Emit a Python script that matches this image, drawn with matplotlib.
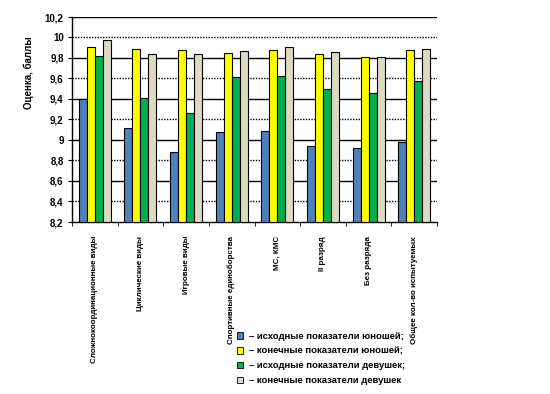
import matplotlib
matplotlib.use("Agg")
import matplotlib.pyplot as plt
import numpy as np
from matplotlib.patches import Patch

categories = ["Сложнокоординационные виды", "Циклические виды", "Игровые виды",
              "Спортивные единоборства", "МС, КМС", "II разряд", "Без разряда",
              "Общее кол-во испытуемых"]
boys_start = [9.40, 9.12, 8.88, 9.08, 9.09, 8.945, 8.92, 8.98]
boys_end = [9.91, 9.89, 9.88, 9.85, 9.875, 9.84, 9.81, 9.875]
girls_start = [9.82, 9.41, 9.26, 9.61, 9.62, 9.50, 9.46, 9.58]
girls_end = [9.98, 9.84, 9.84, 9.865, 9.91, 9.855, 9.81, 9.89]
series_labels = ["– исходные показатели юношей;", "– конечные показатели юношей;",
                 "– исходные показатели девушек;", "– конечные показатели девушек"]
colors = ["#4F81BD", "#FFFF00", "#00B050", "#DDD9C3"]
yticks = [8.2, 8.4, 8.6, 8.8, 9.0, 9.2, 9.4, 9.6, 9.8, 10.0, 10.2]
ytick_labels = ["8,2", "8,4", "8,6", "8,8", "9", "9,2", "9,4", "9,6", "9,8", "10", "10,2"]

plt.rcParams['font.family'] = ['Liberation Sans', 'DejaVu Sans']
fig = plt.figure(figsize=(5.5, 3.94), dpi=100)
ax = fig.add_axes([72/550, 1-222/394, (437-72)/550, (222-17)/394])

series = [boys_start, boys_end, girls_start, girls_end]
x = np.arange(len(categories))
w = 0.175
base = 8.2
for i, (vals, c) in enumerate(zip(series, colors)):
    ax.bar(x - 1.5*w + i*w, np.array(vals) - base, bottom=base, width=w,
           color=c, edgecolor="black", linewidth=0.8, zorder=3,
           label=series_labels[i])

ax.set_xlim(-0.5, len(categories) - 0.5)
ax.set_ylim(8.2, 10.2)
ax.set_yticks(yticks)
ax.set_yticklabels(ytick_labels, fontsize=7, fontweight="bold")
for idx, yv in enumerate(yticks):
    if idx == 0:
        continue
    if idx % 2 == 0:
        ax.axhline(yv, color="black", lw=1.0, zorder=1)
    else:
        ax.axhline(yv, color="black", lw=1.0, ls=(0, (1, 1)), zorder=1)

ax.set_xticks(np.arange(len(categories) + 1) - 0.5, minor=True)
ax.set_xticks(x)
ax.set_xticklabels(categories, rotation=90, fontsize=5.8, fontweight="bold",
                   va="top", ha="center")
ax.tick_params(axis="x", which="major", length=0, pad=10)
ax.tick_params(axis="x", which="minor", length=3, direction="out")
ax.tick_params(axis="y", length=3, direction="out", pad=3)

for s in ["top", "right"]:
    ax.spines[s].set_visible(False)
ax.spines["left"].set_linewidth(1.0)
ax.spines["bottom"].set_linewidth(1.0)

fig.text(29/550, 1-73/394, "Оценка, баллы", rotation=90, fontsize=7,
         fontweight="bold", ha="center", va="center")

handles = [Patch(facecolor=c, edgecolor="black", linewidth=0.6) for c in colors]
fig.legend(handles, series_labels, loc="upper left",
           bbox_to_anchor=(232/550, 1-327/394), frameon=False,
           prop={"weight": "bold", "size": 6.8},
           handlelength=0.7, handleheight=0.7, handletextpad=0.6,
           labelspacing=0.62, borderpad=0)

fig.savefig("out.png", dpi=100)
